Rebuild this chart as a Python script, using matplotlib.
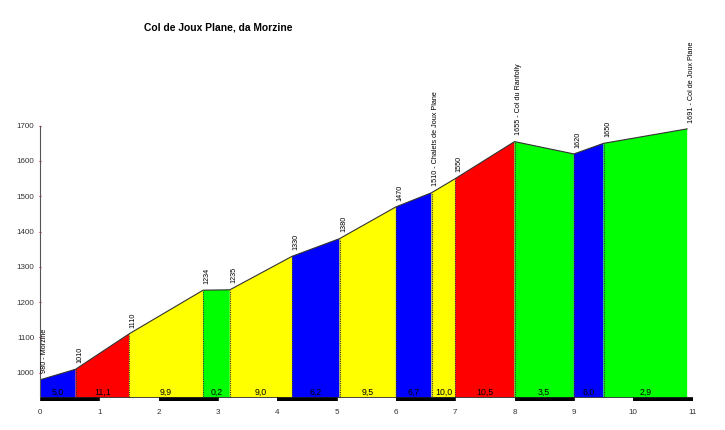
import matplotlib
matplotlib.use("Agg")
import matplotlib.pyplot as plt

plt.rcParams['font.family'] = ['Liberation Sans', 'DejaVu Sans']

# profile points (km, altitude) and their labels
km = [0, 0.6, 1.5, 2.75, 3.2, 4.25, 5.05, 6.0, 6.6, 7.0, 8.0, 9.0, 9.5, 10.91]
alt = [980, 1010, 1110, 1234, 1235, 1330, 1380, 1470, 1510, 1550, 1655, 1620, 1650, 1691]
labels = ['980 - Morzine', '1010', '1110', '1234', '1235', '1330', '1380', '1470',
          '1510 - Chalets de Joux Plane', '1550', '1655 - Col du Ranfolly',
          '1620', '1650', '1691 - Col de Joux Plane']

# per-segment gradient labels and colours
grades = ['5,0', '11,1', '9,9', '0,2', '9,0', '6,2', '9,5', '6,7', '10,0', '10,5', '3,5', '6,0', '2,9']
colors = ['#0000ff', '#ff0000', '#ffff00', '#00ff00', '#ffff00', '#0000ff', '#ffff00',
          '#0000ff', '#ffff00', '#ff0000', '#00ff00', '#0000ff', '#00ff00']

y_min = 920
base = 930

fig = plt.figure(figsize=(7.25, 4.3), dpi=100)
ax = fig.add_axes([40/725, 1 - 401/430, 652.5/725, (401 - 125.7)/430])

for i in range(len(grades)):
    x0, x1 = km[i], km[i+1]
    ax.fill([x0, x1, x1, x0], [base, base, alt[i+1], alt[i]], color=colors[i], lw=0)
    ax.text((x0 + x1) / 2, base + 3, grades[i], ha='center', va='bottom', fontsize=6.3)
    if i > 0:
        ax.plot([x0, x0], [base, alt[i]], color='#333333', lw=0.8, ls=(0, (1, 1)))

ax.plot(km, alt, color='#333333', lw=0.8)

for x, y, t in zip(km, alt, labels):
    ax.text(x + 0.07, y + 18, t, rotation=90, ha='center', va='bottom', fontsize=5.2)

# kilometre bar
for k in range(11):
    fc = 'black' if k % 2 == 0 else 'white'
    ax.fill([k, k+1, k+1, k], [y_min, y_min, base, base], facecolor=fc, edgecolor='black', lw=0.5)

ax.set_xlim(0, 11)
ax.set_ylim(y_min, 1700)
ax.set_xticks(range(12))
ax.set_yticks(range(1000, 1701, 100))
ax.tick_params(axis='x', length=0, labelsize=5.8, pad=6, colors='#333333')
ax.tick_params(axis='y', length=2, color='red', labelsize=5.8, labelcolor='#333333',
               direction='inout', pad=3)
for s in ['top', 'right', 'bottom']:
    ax.spines[s].set_visible(False)
ax.spines['left'].set_color('#555555')
ax.spines['left'].set_bounds(base, 1700)

fig.text(218/725, 1 - 27/430, 'Col de Joux Plane, da Morzine', ha='center', va='center',
         fontsize=7.4, fontweight='bold')

fig.savefig('out.png', dpi=100)
